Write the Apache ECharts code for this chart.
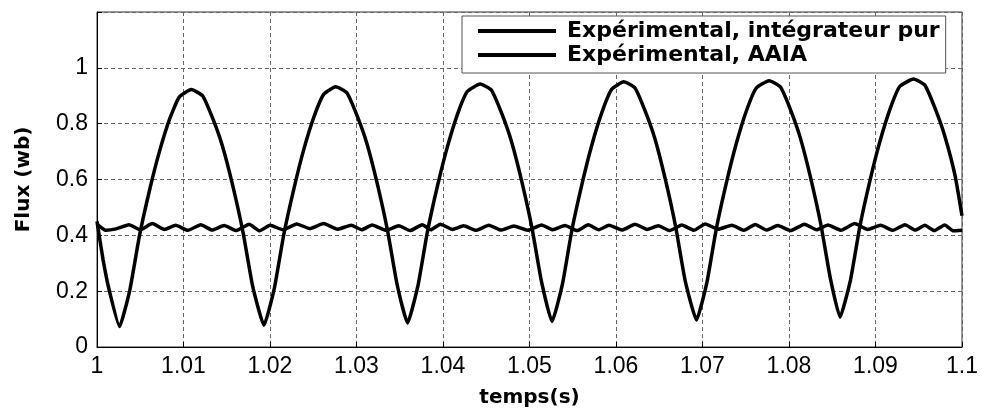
<!DOCTYPE html>
<html>
<head>
<meta charset="utf-8">
<script src="https://cdn.jsdelivr.net/npm/echarts@6/dist/echarts.min.js"></script>
<style>
  html, body { margin: 0; padding: 0; background: #fff; }
  #chart1 { width: 982px; height: 413px; }
</style>
</head>
<body>
<div id="chart1"></div>
<script>
// flux, experimental, pure integrator (time in s, flux in wb)
var timePur = [
    1.0000, 1.0007, 1.0014,
    1.0026, 1.0038, 1.0049, 1.0061, 1.0072, 1.0084, 1.0095, 1.0109, 1.0122, 1.0134, 1.0145, 1.0157, 1.0169, 1.0180,
    1.0193, 1.0205, 1.0216, 1.0228, 1.0239, 1.0251, 1.0262, 1.0276, 1.0289, 1.0301, 1.0312, 1.0324, 1.0336, 1.0347,
    1.0359, 1.0371, 1.0382, 1.0394, 1.0405, 1.0417, 1.0428, 1.0443, 1.0456, 1.0468, 1.0479, 1.0491, 1.0503, 1.0514,
    1.0526, 1.0538, 1.0549, 1.0561, 1.0572, 1.0584, 1.0595, 1.0609, 1.0622, 1.0634, 1.0645, 1.0657, 1.0669, 1.0680,
    1.0693, 1.0705, 1.0716, 1.0728, 1.0739, 1.0751, 1.0762, 1.0777, 1.0790, 1.0802, 1.0813, 1.0825, 1.0837, 1.0848,
    1.0859, 1.0871, 1.0882, 1.0894, 1.0905, 1.0917, 1.0928, 1.0944, 1.0957, 1.0969, 1.0980, 1.0992, 1.1000
];
var fluxPur = [
    0.450, 0.313, 0.205,
    0.073, 0.205, 0.397, 0.565, 0.698, 0.817, 0.895, 0.922, 0.900, 0.817, 0.720, 0.577, 0.408, 0.217,
    0.078, 0.210, 0.404, 0.572, 0.707, 0.826, 0.905, 0.932, 0.910, 0.826, 0.729, 0.585, 0.415, 0.223,
    0.086, 0.219, 0.413, 0.582, 0.716, 0.836, 0.915, 0.942, 0.920, 0.836, 0.738, 0.594, 0.424, 0.232,
    0.091, 0.224, 0.419, 0.588, 0.723, 0.843, 0.923, 0.950, 0.928, 0.843, 0.746, 0.601, 0.430, 0.237,
    0.097, 0.230, 0.424, 0.593, 0.728, 0.848, 0.927, 0.954, 0.932, 0.848, 0.750, 0.606, 0.436, 0.243,
    0.107, 0.239, 0.433, 0.601, 0.735, 0.854, 0.933, 0.960, 0.938, 0.854, 0.757, 0.614, 0.470
];

// flux, experimental, AAIA
var timeAaia = [
    1.0000, 1.0010, 1.0022, 1.0037, 1.0050, 1.0064, 1.0078, 1.0091, 1.0105, 1.0120,
    1.0133, 1.0147, 1.0161, 1.0176, 1.0188, 1.0200, 1.0215, 1.0231, 1.0246, 1.0262,
    1.0278, 1.0294, 1.0306, 1.0318, 1.0334, 1.0349, 1.0362, 1.0376, 1.0386, 1.0397,
    1.0411, 1.0424, 1.0438, 1.0453, 1.0467, 1.0482, 1.0498, 1.0514, 1.0527, 1.0541,
    1.0555, 1.0568, 1.0580, 1.0592, 1.0607, 1.0622, 1.0636, 1.0649, 1.0662, 1.0676,
    1.0690, 1.0703, 1.0718, 1.0734, 1.0748, 1.0761, 1.0774, 1.0787, 1.0802, 1.0818,
    1.0832, 1.0845, 1.0860, 1.0876, 1.0891, 1.0906, 1.0920, 1.0934, 1.0946, 1.0957,
    1.0968, 1.0980, 1.0990, 1.1000
];
var fluxAaia = [
    0.440, 0.418, 0.423, 0.438, 0.420, 0.442, 0.421, 0.436, 0.418, 0.438,
    0.419, 0.435, 0.417, 0.440, 0.416, 0.436, 0.420, 0.441, 0.424, 0.442,
    0.422, 0.436, 0.420, 0.437, 0.418, 0.434, 0.417, 0.438, 0.420, 0.440,
    0.421, 0.434, 0.418, 0.436, 0.419, 0.433, 0.418, 0.437, 0.420, 0.435,
    0.417, 0.438, 0.420, 0.436, 0.419, 0.440, 0.421, 0.434, 0.417, 0.437,
    0.418, 0.441, 0.422, 0.436, 0.418, 0.439, 0.419, 0.435, 0.417, 0.440,
    0.420, 0.437, 0.418, 0.442, 0.421, 0.436, 0.418, 0.438, 0.419, 0.436,
    0.417, 0.437, 0.416, 0.418
];

var seriesNames = ['Expérimental, intégrateur pur', 'Expérimental, AAIA'];

function pairs(xs, ys) {
    var out = [];
    for (var i = 0; i < xs.length; i++) {
        out.push([xs[i], ys[i]]);
    }
    return out;
}

var gridLine = { color: '#666', width: 1, type: [4, 3] };
var tickFont = { color: '#000', fontFamily: 'Liberation Sans', fontSize: 23 };
var nameFont = { color: '#000', fontFamily: 'DejaVu Sans', fontWeight: 'bold', fontSize: 20 };

var option = {
    animation: false,
    backgroundColor: '#fff',
    grid: {
        left: 97,
        right: 20,
        top: 12,
        bottom: 66,
        show: true,
        borderColor: '#333',
        borderWidth: 1
    },
    legend: {
        data: seriesNames,
        orient: 'vertical',
        left: 462,
        top: 16,
        padding: [4, 6, 7, 16],
        itemGap: 2,
        itemWidth: 78,
        itemHeight: 4,
        icon: 'rect',
        backgroundColor: '#fff',
        borderColor: '#555',
        borderWidth: 1,
        borderRadius: 0,
        textStyle: {
            color: '#000',
            fontFamily: 'DejaVu Sans',
            fontWeight: 'bold',
            fontSize: 22,
            lineHeight: 20,
            padding: [0, 0, 0, 6]
        }
    },
    xAxis: {
        type: 'value',
        min: 1,
        max: 1.1,
        interval: 0.01,
        name: 'temps(s)',
        nameLocation: 'middle',
        nameGap: 41,
        nameTextStyle: nameFont,
        axisLine: { lineStyle: { color: '#000', width: 1 } },
        axisTick: { inside: true, length: 5, lineStyle: { color: '#000' } },
        axisLabel: tickFont,
        splitLine: { show: true, lineStyle: gridLine }
    },
    yAxis: {
        type: 'value',
        min: 0,
        max: 1.2,
        interval: 0.2,
        name: 'Flux (wb)',
        nameLocation: 'middle',
        nameGap: 63,
        nameTextStyle: nameFont,
        axisLine: { show: true, lineStyle: { color: '#000', width: 1 } },
        axisTick: { show: true, inside: true, length: 5, lineStyle: { color: '#000' } },
        axisLabel: Object.assign({
            margin: 9,
            formatter: function(v) {
                return v > 1.1 ? '' : String(+v.toFixed(1));
            }
        }, tickFont),
        splitLine: { show: true, lineStyle: gridLine }
    },
    series: [{
        name: seriesNames[0],
        type: 'line',
        data: pairs(timePur, fluxPur),
        showSymbol: false,
        smooth: 0.15,
        color: '#000',
        lineStyle: { color: '#000', width: 3.5 }
    }, {
        name: seriesNames[1],
        type: 'line',
        data: pairs(timeAaia, fluxAaia),
        showSymbol: false,
        smooth: 0.15,
        color: '#000',
        lineStyle: { color: '#000', width: 3.5 }
    }]
};

var myChart = echarts.init(document.getElementById('chart1'));
myChart.setOption(option);
</script>
</body>
</html>
